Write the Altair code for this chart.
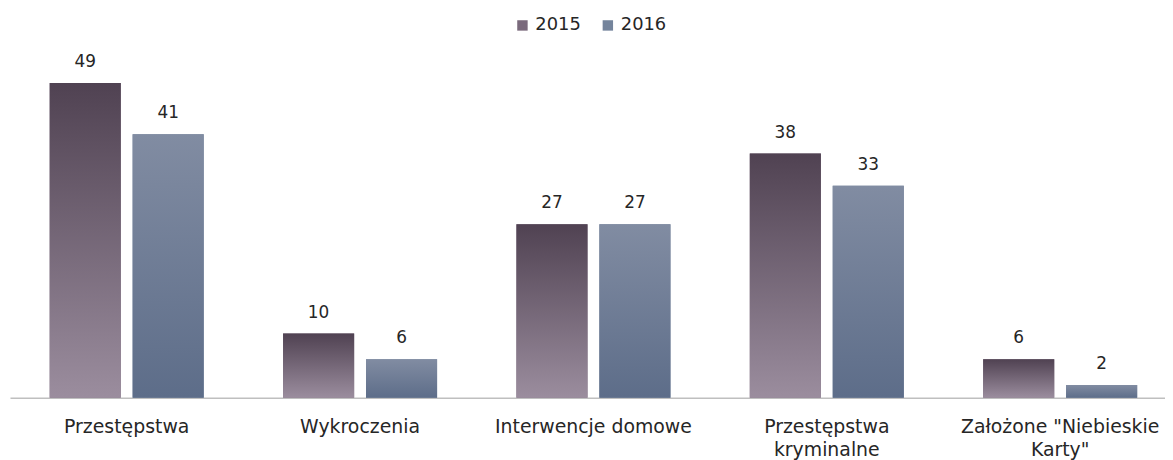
import altair as alt
import pandas as pd

categories = ["Przestępstwa", "Wykroczenia", "Interwencje domowe",
              "Przestępstwa|kryminalne", 'Założone "Niebieskie|Karty"']
years = ["2015", "2016"]
values_2015 = [49, 10, 27, 38, 6]
values_2016 = [41, 6, 27, 33, 2]

rows = []
for c, v in zip(categories, values_2015):
    rows.append({"category": c, "year": "2015", "value": v})
for c, v in zip(categories, values_2016):
    rows.append({"category": c, "year": "2016", "value": v})
df = pd.DataFrame(rows)

FONT = "DejaVu Sans"

x = alt.X("category:N", sort=categories, title=None,
          scale=alt.Scale(paddingInner=0.34, paddingOuter=0.1447, align=0.588),
          axis=alt.Axis(labelExpr="split(datum.label, '|')", labelAngle=0,
                        labelFontSize=19, labelFont=FONT, labelColor="#262626",
                        labelPadding=20, labelLineHeight=23, ticks=False,
                        domainColor="#bfbfbf", domainWidth=1.5, labelLimit=300))
xo = alt.XOffset("year:N", scale=alt.Scale(domain=years, paddingInner=0.143, paddingOuter=0))
y = alt.Y("value:Q", scale=alt.Scale(domain=[0, 55]), axis=None)

base = alt.Chart(df)

legend_bars = base.mark_bar().encode(
    x=x, xOffset=xo, y=y,
    color=alt.Color("year:N", scale=alt.Scale(domain=years, range=["#7a6a7c", "#74849c"]),
                    legend=alt.Legend(title=None, orient="none", direction="horizontal",
                                      legendX=507, legendY=-28, symbolType="square",
                                      symbolSize=110, labelFontSize=18, labelFont=FONT,
                                      labelColor="#262626", columnPadding=18,
                                      symbolStrokeWidth=0)),
)

g2015 = alt.Gradient(gradient="linear", x1=0, y1=0, x2=0, y2=1,
                     stops=[alt.GradientStop(offset=0, color="#504252"),
                            alt.GradientStop(offset=1, color="#9b8d9e")])
g2016 = alt.Gradient(gradient="linear", x1=0, y1=0, x2=0, y2=1,
                     stops=[alt.GradientStop(offset=0, color="#818ca2"),
                            alt.GradientStop(offset=1, color="#5d6d89")])

bars2015 = base.transform_filter(alt.datum.year == "2015").mark_bar(color=g2015).encode(
    x=x, xOffset=xo, y=y)
bars2016 = base.transform_filter(alt.datum.year == "2016").mark_bar(color=g2016).encode(
    x=x, xOffset=xo, y=y)

labels = base.mark_text(baseline="bottom", dy=-12, fontSize=17, font=FONT, color="#262626").encode(
    x=x, xOffset=xo, y=y, text="value:Q")

chart = alt.layer(legend_bars, bars2015, bars2016, labels).properties(
    width=1163, height=356,
    autosize=alt.AutoSizeParams(type="none"),
    padding={"left": 2, "top": 35, "right": 0, "bottom": 61},
).configure_view(stroke=None)

chart.save("out.html", embed_options={"renderer": "svg", "actions": False})
